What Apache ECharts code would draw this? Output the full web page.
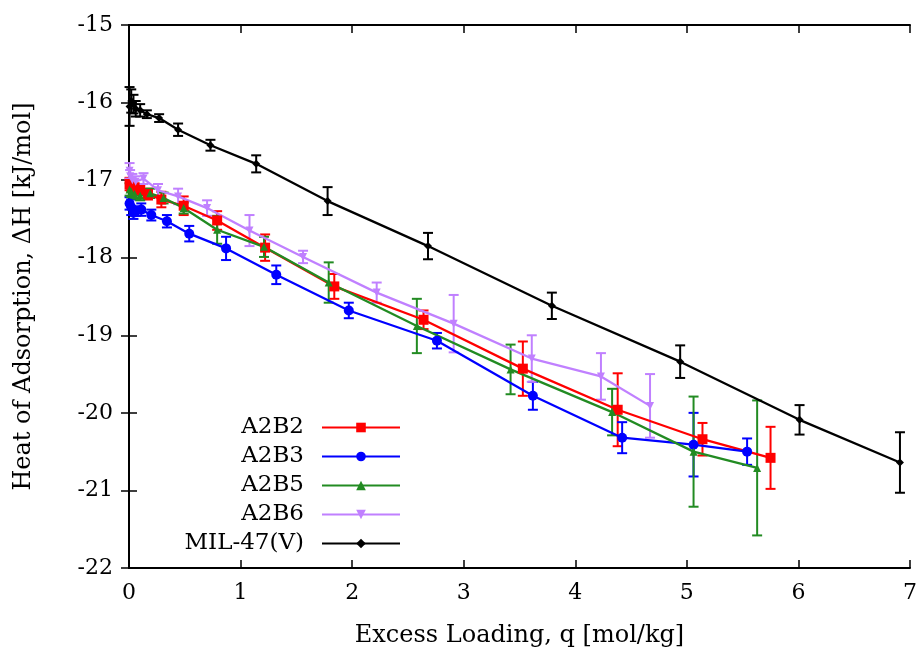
<!DOCTYPE html>
<html>
<head>
<meta charset="utf-8">
<script src="https://cdn.jsdelivr.net/npm/echarts@6/dist/echarts.min.js"></script>
<style>
  html, body { margin: 0; padding: 0; background: #fff; }
  #chart { width: 924px; height: 657px; }
</style>
</head>
<body>
<div id="chart"></div>
<script>
// values: loading q [mol/kg], heat dH [kJ/mol], error +-
const a2b2X = [0.005, 0.02, 0.05, 0.1, 0.17, 0.29, 0.49, 0.79, 1.22, 1.84, 2.64, 3.53, 4.38, 5.14, 5.75]
const a2b2Y = [-17.05, -17.08, -17.1, -17.13, -17.18, -17.25, -17.33, -17.52, -17.87, -18.37, -18.8, -19.43, -19.96, -20.34, -20.58]
const a2b2E = [0.08, 0.06, 0.06, 0.06, 0.07, 0.1, 0.12, 0.12, 0.17, 0.16, 0.12, 0.35, 0.47, 0.21, 0.4]

const a2b3X = [0.005, 0.02, 0.04, 0.06, 0.11, 0.2, 0.34, 0.54, 0.87, 1.32, 1.97, 2.76, 3.62, 4.42, 5.06, 5.54]
const a2b3Y = [-17.3, -17.35, -17.42, -17.4, -17.38, -17.45, -17.53, -17.69, -17.88, -18.22, -18.68, -19.07, -19.78, -20.32, -20.41, -20.5]
const a2b3E = [0.08, 0.1, 0.08, 0.06, 0.08, 0.07, 0.08, 0.1, 0.15, 0.12, 0.1, 0.1, 0.18, 0.2, 0.41, 0.17]

const a2b5X = [0.005, 0.02, 0.05, 0.1, 0.19, 0.31, 0.49, 0.79, 1.21, 1.79, 2.58, 3.42, 4.33, 5.06, 5.63]
const a2b5Y = [-17.12, -17.15, -17.18, -17.2, -17.17, -17.23, -17.36, -17.64, -17.86, -18.32, -18.88, -19.44, -19.99, -20.5, -20.71]
const a2b5E = [0.08, 0.07, 0.06, 0.06, 0.06, 0.07, 0.07, 0.18, 0.13, 0.26, 0.35, 0.32, 0.3, 0.71, 0.87]

const a2b6X = [0.005, 0.01, 0.03, 0.06, 0.13, 0.26, 0.44, 0.7, 1.08, 1.56, 2.22, 2.91, 3.61, 4.23, 4.67]
const a2b6Y = [-16.88, -16.95, -17.0, -17.02, -16.98, -17.13, -17.21, -17.36, -17.65, -17.99, -18.45, -18.85, -19.3, -19.53, -19.91]
const a2b6E = [0.1, 0.08, 0.08, 0.07, 0.07, 0.08, 0.1, 0.1, 0.2, 0.08, 0.13, 0.37, 0.3, 0.3, 0.41]

const milX = [0.005, 0.02, 0.04, 0.06, 0.1, 0.16, 0.27, 0.44, 0.73, 1.14, 1.78, 2.68, 3.79, 4.94, 6.01, 6.91]
const milY = [-16.05, -15.98, -16.02, -16.08, -16.1, -16.15, -16.2, -16.35, -16.55, -16.79, -17.27, -17.85, -18.62, -19.34, -20.09, -20.64]
const milE = [0.25, 0.15, 0.12, 0.1, 0.08, 0.05, 0.05, 0.08, 0.07, 0.11, 0.18, 0.17, 0.17, 0.21, 0.19, 0.39]

const names = ['A2B2', 'A2B3', 'A2B5', 'A2B6', 'MIL-47(V)']

const font = 'DejaVu Serif'

function errRender(color) {
  return function (params, api) {
    let x = api.value(0)
    let p1 = api.coord([x, api.value(2)])
    let p2 = api.coord([x, api.value(1)])
    let w = 5
    let st = { stroke: color, lineWidth: 2 }
    return {
      type: 'group',
      children: [
        { type: 'line', shape: { x1: p1[0], y1: p1[1], x2: p2[0], y2: p2[1] }, style: st },
        { type: 'line', shape: { x1: p1[0] - w, y1: p1[1], x2: p1[0] + w, y2: p1[1] }, style: st },
        { type: 'line', shape: { x1: p2[0] - w, y1: p2[1], x2: p2[0] + w, y2: p2[1] }, style: st }
      ]
    }
  }
}

function makeSeries(name, xs, ys, es, color, symbol, size, rotate) {
  let pts = []
  let bars = []
  xs.forEach((x, i) => {
    pts.push([x, ys[i]])
    bars.push([x, ys[i] - es[i], ys[i] + es[i]])
  })
  return [
    {
      name: name + ' err',
      type: 'custom',
      renderItem: errRender(color),
      data: bars,
      clip: false,
      encode: { x: 0, y: [1, 2] },
      z: 2
    },
    {
      name: name,
      type: 'line',
      data: pts,
      symbol: symbol,
      symbolSize: size,
      symbolRotate: rotate || 0,
      showSymbol: true,
      clip: false,
      color: color,
      itemStyle: { color: color },
      lineStyle: { color: color, width: 2.3 },
      z: 3
    }
  ]
}

let myChart = echarts.init(document.getElementById('chart'))

let series = [].concat(
  makeSeries('A2B2', a2b2X, a2b2Y, a2b2E, '#ff0000', 'rect', 10),
  makeSeries('A2B3', a2b3X, a2b3Y, a2b3E, '#0000ff', 'circle', 10),
  makeSeries('A2B5', a2b5X, a2b5Y, a2b5E, '#228b22', 'triangle', 8),
  makeSeries('A2B6', a2b6X, a2b6Y, a2b6E, '#c080ff', 'triangle', 8, 180),
  makeSeries('MIL-47(V)', milX, milY, milE, '#000000', 'diamond', 8)
)

myChart.setOption({
  animation: false,
  backgroundColor: '#ffffff',
  grid: { left: 129, right: 14, top: 25, bottom: 89 },
  legend: {
    data: names,
    orient: 'vertical',
    align: 'right',
    right: 523,
    top: 416,
    padding: 0,
    itemWidth: 78,
    itemHeight: 12,
    itemGap: 6,
    textStyle: { fontFamily: font, fontSize: 23, color: '#000', lineHeight: 20, padding: [0, 13, 0, 0] }
  },
  xAxis: [
    {
      type: 'value',
      min: 0,
      max: 7,
      interval: 1,
      name: 'Excess Loading, q [mol/kg]',
      nameLocation: 'middle',
      nameGap: 56,
      nameTextStyle: { fontFamily: font, fontSize: 24, color: '#000' },
      axisLine: { lineStyle: { color: '#000', width: 2 } },
      axisTick: { inside: true, length: 8, lineStyle: { color: '#000', width: 1.5 } },
      axisLabel: { fontFamily: font, fontSize: 22, color: '#000', margin: 14 },
      splitLine: { show: false }
    },
    {
      type: 'value',
      position: 'top',
      min: 0,
      max: 7,
      interval: 1,
      axisLine: { lineStyle: { color: '#000', width: 2 } },
      axisTick: { inside: true, length: 8, lineStyle: { color: '#000', width: 1.5 } },
      axisLabel: { show: false },
      splitLine: { show: false }
    }
  ],
  yAxis: [
    {
      type: 'value',
      min: -22,
      max: -15,
      interval: 1,
      name: 'Heat of Adsorption, ΔH [kJ/mol]',
      nameLocation: 'middle',
      nameGap: 93,
      nameTextStyle: { fontFamily: font, fontSize: 24, color: '#000' },
      axisLine: { lineStyle: { color: '#000', width: 2 } },
      axisTick: { inside: true, length: 8, lineStyle: { color: '#000', width: 1.5 } },
      axisLabel: { fontFamily: font, fontSize: 22, color: '#000', margin: 16 },
      splitLine: { show: false }
    },
    {
      type: 'value',
      position: 'right',
      min: -22,
      max: -15,
      interval: 1,
      axisLine: { lineStyle: { color: '#000', width: 2 } },
      axisTick: { inside: true, length: 8, lineStyle: { color: '#000', width: 1.5 } },
      axisLabel: { show: false },
      splitLine: { show: false }
    }
  ],
  series: series
})
</script>
</body>
</html>
